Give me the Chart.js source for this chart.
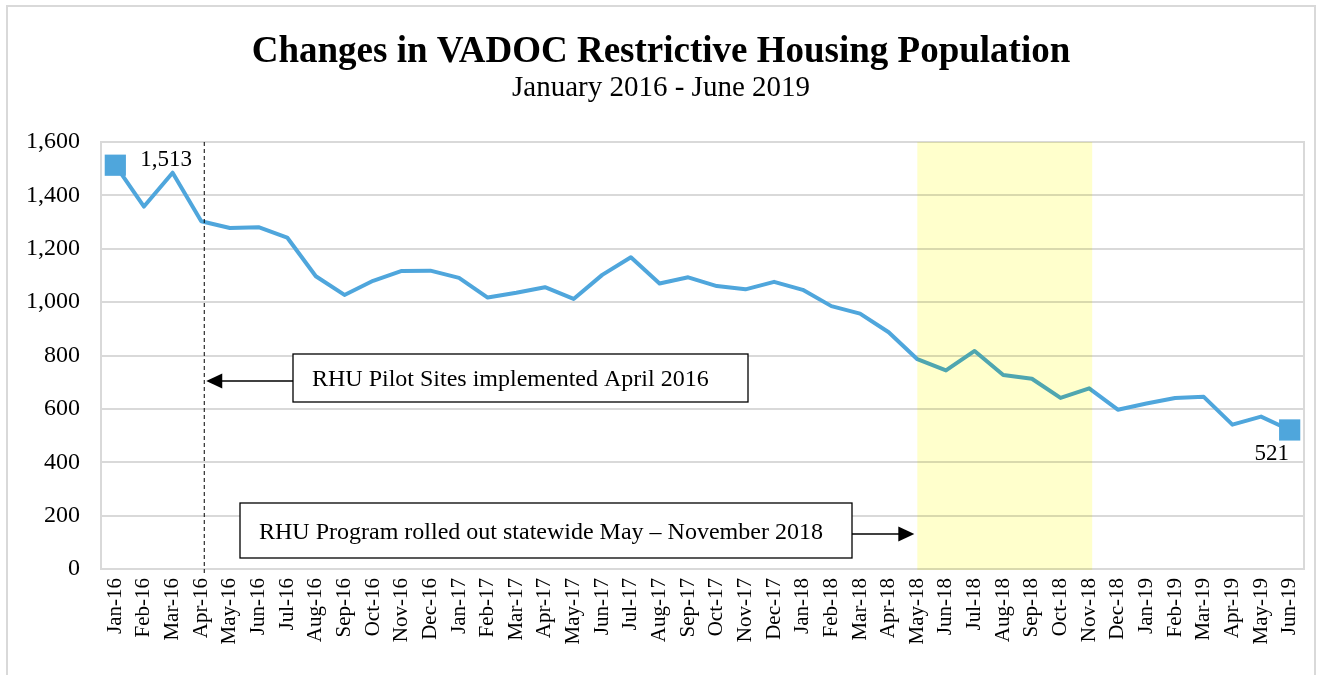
<!DOCTYPE html>
<html>
<head>
<meta charset="utf-8">
<script src="https://cdn.jsdelivr.net/npm/chart.js@4/dist/chart.umd.min.js"></script>
<style>
  html, body { margin: 0; padding: 0; background: #fff; }
  canvas { display: block; }
</style>
</head>
<body>
<canvas id="rhu" width="1321" height="675"></canvas>
<script>
// monthly restrictive housing population, Jan 2016 - Jun 2019
const months = [
  'Jan-16','Feb-16','Mar-16','Apr-16','May-16','Jun-16','Jul-16','Aug-16','Sep-16','Oct-16','Nov-16','Dec-16',
  'Jan-17','Feb-17','Mar-17','Apr-17','May-17','Jun-17','Jul-17','Aug-17','Sep-17','Oct-17','Nov-17','Dec-17',
  'Jan-18','Feb-18','Mar-18','Apr-18','May-18','Jun-18','Jul-18','Aug-18','Sep-18','Oct-18','Nov-18','Dec-18',
  'Jan-19','Feb-19','Mar-19','Apr-19','May-19','Jun-19'
];
const population = [
  1513, 1358, 1485, 1303, 1278, 1281, 1242, 1097, 1027, 1080, 1117, 1118,
  1091, 1017, 1035, 1056, 1012, 1102, 1168, 1070, 1093, 1060, 1048, 1076,
  1046, 985, 957, 887, 786, 744, 817, 727, 713, 641, 677, 597,
  620, 641, 645, 541, 571, 521
];
const yTicks = [0, 200, 400, 600, 800, 1000, 1200, 1400, 1600];

const TITLE = 'Changes in VADOC Restrictive Housing Population';
const SUBTITLE = 'January 2016 - June 2019';
const NOTE_PILOT = 'RHU Pilot Sites implemented April 2016';
const NOTE_STATEWIDE = 'RHU Program rolled out statewide May \u2013 November 2018';
const pilotMonth = 'Apr-16';
const rolloutStart = 'May-18';
const rolloutEnd = 'Nov-18';

const SERIF = '"Liberation Serif", "Times New Roman", serif';
const LINE_BLUE = '#4fa6dc';
const GRID = '#d9d9d9';

const fmt = v => v.toLocaleString('en-US');

function arrow(ctx, x0, y, x1) {
  const dir = Math.sign(x1 - x0);
  ctx.beginPath();
  ctx.moveTo(x0, y);
  ctx.lineTo(x1 - dir * 14, y);
  ctx.stroke();
  ctx.beginPath();
  ctx.moveTo(x1, y);
  ctx.lineTo(x1 - dir * 16, y - 7.5);
  ctx.lineTo(x1 - dir * 16, y + 7.5);
  ctx.closePath();
  ctx.fill();
}

function noteBox(ctx, x, y, w, h, text) {
  ctx.fillStyle = '#fff';
  ctx.fillRect(x, y, w, h);
  ctx.strokeStyle = '#000';
  ctx.lineWidth = 1.3;
  ctx.strokeRect(x, y, w, h);
  ctx.fillStyle = '#000';
  ctx.font = '24px ' + SERIF;
  ctx.textAlign = 'left';
  ctx.textBaseline = 'alphabetic';
  ctx.fillText(text, x + 19, y + h / 2 + 8);
}

const decor = {
  id: 'decor',
  beforeDraw(chart) {
    const ctx = chart.ctx;
    ctx.save();
    ctx.fillStyle = '#fff';
    ctx.fillRect(0, 0, chart.width, chart.height);
    ctx.strokeStyle = GRID;
    ctx.lineWidth = 2;
    ctx.strokeRect(7, 6, 1308, 700);

    ctx.fillStyle = '#000';
    ctx.textAlign = 'center';
    ctx.textBaseline = 'alphabetic';
    ctx.font = 'bold 37px ' + SERIF;
    ctx.fillText(TITLE, 661, 62, 828);
    ctx.font = '29px ' + SERIF;
    ctx.fillText(SUBTITLE, 661, 96, 304);
    ctx.restore();
  },
  beforeDatasetsDraw(chart) {
    const { ctx, chartArea: a } = chart;
    ctx.save();
    ctx.strokeStyle = GRID;
    ctx.lineWidth = 2;
    ctx.strokeRect(a.left, a.top, a.right - a.left, a.bottom - a.top);
    ctx.restore();
  },
  afterDatasetsDraw(chart) {
    const { ctx, chartArea: a, scales: { x, y } } = chart;
    ctx.save();

    // rollout period shading (tints the line underneath)
    const bx0 = x.getPixelForValue(months.indexOf(rolloutStart));
    const bx1 = x.getPixelForValue(months.indexOf(rolloutEnd)) + 3;
    ctx.globalCompositeOperation = 'multiply';
    ctx.fillStyle = '#ffffcc';
    ctx.fillRect(bx0, a.top, bx1 - bx0, a.bottom - a.top + 1);
    ctx.globalCompositeOperation = 'source-over';

    // pilot start marker
    const px = x.getPixelForValue(months.indexOf(pilotMonth)) + 3;
    ctx.strokeStyle = '#000';
    ctx.lineWidth = 1;
    ctx.setLineDash([4, 3]);
    ctx.beginPath();
    ctx.moveTo(px, a.top);
    ctx.lineTo(px, a.bottom + 5);
    ctx.stroke();
    ctx.setLineDash([]);

    // annotation boxes and arrows
    ctx.fillStyle = '#000';
    ctx.lineWidth = 1.3;
    arrow(ctx, 293, 381, px + 2);
    noteBox(ctx, 293, 354, 455, 48, NOTE_PILOT);
    ctx.fillStyle = '#000';
    ctx.strokeStyle = '#000';
    ctx.lineWidth = 1.3;
    arrow(ctx, 852, 534, bx0 - 3);
    noteBox(ctx, 240, 503, 612, 55, NOTE_STATEWIDE);

    // data labels on first and last points
    const meta = chart.getDatasetMeta(0).data;
    const first = meta[0], last = meta[meta.length - 1];
    ctx.fillStyle = '#000';
    ctx.font = '23px ' + SERIF;
    ctx.textBaseline = 'alphabetic';
    ctx.textAlign = 'left';
    ctx.fillText(fmt(population[0]), first.x + 25, first.y + 1);
    ctx.textAlign = 'center';
    ctx.fillText(fmt(population[population.length - 1]), last.x - 18, last.y + 30);
    ctx.restore();
  }
};

const radii = population.map((v, i) => (i === 0 || i === population.length - 1) ? 15 : 0);

new Chart(document.getElementById('rhu'), {
  type: 'line',
  data: {
    labels: months,
    datasets: [{
      data: population,
      borderColor: LINE_BLUE,
      backgroundColor: LINE_BLUE,
      borderWidth: 4,
      borderJoinStyle: 'round',
      tension: 0,
      pointStyle: 'rect',
      pointRadius: radii,
      pointBorderWidth: 0,
      pointBackgroundColor: LINE_BLUE,
      pointHoverRadius: radii
    }]
  },
  options: {
    responsive: false,
    animation: false,
    events: [],
    layout: { padding: { top: 142, right: 17, bottom: 0, left: 0 } },
    plugins: {
      legend: { display: false },
      title: { display: false },
      tooltip: { enabled: false }
    },
    scales: {
      x: {
        offset: true,
        grid: { display: false, drawTicks: false },
        border: { display: false },
        afterFit: s => { s.height = 106; s.paddingLeft = 0; s.paddingRight = 0; },
        ticks: {
          autoSkip: false,
          minRotation: 90,
          maxRotation: 90,
          padding: 9,
          color: '#000',
          font: { family: SERIF, size: 21 }
        }
      },
      y: {
        min: yTicks[0],
        max: yTicks[yTicks.length - 1],
        afterFit: s => { s.width = 101; },
        afterBuildTicks: s => { s.ticks = yTicks.map(v => ({ value: v })); },
        grid: { color: GRID, lineWidth: 2, drawTicks: false },
        border: { display: false },
        ticks: {
          padding: 21,
          color: '#000',
          font: { family: SERIF, size: 24 },
          callback: v => fmt(v)
        }
      }
    }
  },
  plugins: [decor]
});
</script>
</body>
</html>
